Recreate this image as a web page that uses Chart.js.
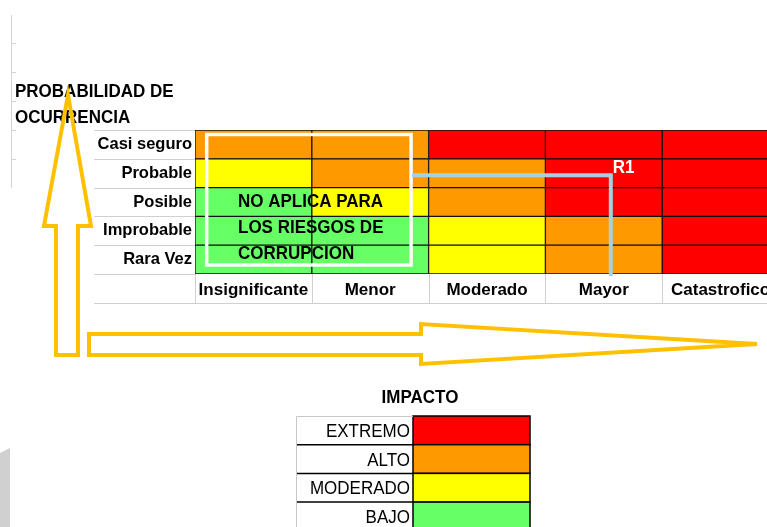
<!DOCTYPE html>
<html><head><meta charset="utf-8">
<script src="https://cdn.jsdelivr.net/npm/chart.js@4/dist/chart.umd.min.js"></script>
<style>
html,body{margin:0;padding:0;overflow:hidden;background:#fff;width:767px;height:527px}
#wrap{position:absolute;left:0;top:0;width:779px;height:527px}
</style></head>
<body><div id="wrap"><canvas id="c" width="779" height="527"></canvas></div>
<script>
// ---- data ----
const probabilidad = ['Casi seguro', 'Probable', 'Posible', 'Improbable', 'Rara Vez'];
const impacto = ['Insignificante', 'Menor', 'Moderado', 'Mayor', 'Catastrofico'];
// nivel de riesgo por celda: 1 BAJO, 2 MODERADO, 3 ALTO, 4 EXTREMO
const nivelCasiSeguro = [3, 3, 4, 4, 4];
const nivelProbable   = [2, 3, 3, 4, 4];
const nivelPosible    = [1, 2, 3, 4, 4];
const nivelImprobable = [1, 1, 2, 3, 4];
const nivelRaraVez    = [1, 1, 2, 3, 4];
const nivelNombres = ['EXTREMO', 'ALTO', 'MODERADO', 'BAJO'];
const nivelValores = [4, 3, 2, 1];
const nivelColores = ['#FF0000', '#FF9900', '#FFFF00', '#66FF66']; // EXTREMO..BAJO
const riesgoR1 = { nombre: 'R1', impacto: 'Mayor', probabilidad: 'Probable' };
const notaTexto = ['NO APLICA PARA', 'LOS RIESGOS DE', 'CORRUPCION'];
const tituloY = ['PROBABILIDAD DE', 'OCURRENCIA'];
const tituloLeyenda = 'IMPACTO';

const filas = [nivelCasiSeguro, nivelProbable, nivelPosible, nivelImprobable, nivelRaraVez];
const colorDe = v => nivelColores[nivelValores.indexOf(v)];
const FONT = '"Liberation Sans", Arial, sans-serif';
const YEL = '#FFC000';

const datasets = impacto.map((imp, j) => ({
  label: imp,
  data: probabilidad.map(() => 1),
  backgroundColor: filas.map(f => colorDe(f[j])),
  borderColor: '#111',
  borderWidth: 1,
  borderSkipped: false,
  barPercentage: 1,
  categoryPercentage: 1,
  stack: 'm'
}));

// text drawn slightly taller, like the spreadsheet rendering
function tallText(ctx, t, x, y, sy) {
  ctx.save(); ctx.translate(x, y); ctx.scale(1, sy || 1.1); ctx.fillText(t, 0, 0); ctx.restore();
}

const deco = {
  id: 'deco',
  beforeDraw(chart) {
    const ctx = chart.ctx;
    const xs = chart.scales.x;
    const ca = chart.chartArea;
    ctx.save();
    ctx.strokeStyle = '#d4d4d4'; ctx.lineWidth = 1;
    ctx.beginPath(); ctx.moveTo(11.5, 15); ctx.lineTo(11.5, 188); ctx.stroke();
    [43, 72, 101, 130, 159].forEach(y => { ctx.beginPath(); ctx.moveTo(11, y + 0.5); ctx.lineTo(16, y + 0.5); ctx.stroke(); });
    ctx.strokeStyle = '#d0d0d0';
    for (let i = 0; i <= probabilidad.length; i++) {
      const y = Math.round(ca.top + i * (ca.bottom - ca.top) / probabilidad.length) + 0.5;
      ctx.beginPath(); ctx.moveTo(94, y); ctx.lineTo(ca.left, y); ctx.stroke();
    }
    const yb = xs.bottom;
    ctx.beginPath(); ctx.moveTo(94, yb + 0.5); ctx.lineTo(779, yb + 0.5); ctx.stroke();
    for (let j = 0; j < impacto.length; j++) {
      const x = Math.round(xs.getPixelForValue(j)) + 0.5;
      ctx.beginPath(); ctx.moveTo(x, ca.bottom); ctx.lineTo(x, yb); ctx.stroke();
    }
    ctx.restore();
  },
  afterDraw(chart) {
    const ctx = chart.ctx;
    const xs = chart.scales.x, ys = chart.scales.y;
    const ca = chart.chartArea;
    ctx.save();
    // white frame
    const rL = xs.getPixelForValue(0.1), rR = xs.getPixelForValue(1.85);
    const rT = ca.top + 4.5, rB = ca.bottom - 9;
    ctx.strokeStyle = '#fff'; ctx.lineWidth = 3.5;
    ctx.strokeRect(rL, rT, rR - rL, rB - rT);
    // note text
    ctx.fillStyle = '#000'; ctx.font = 'bold 17px ' + FONT; ctx.textAlign = 'left'; ctx.textBaseline = 'alphabetic';
    notaTexto.forEach((t, i) => tallText(ctx, t, 238, 207 + i * 26));
    // R1 connector
    const px = xs.getPixelForValue(impacto.indexOf(riesgoR1.impacto) + 0.56);
    const py = ys.getPixelForValue(probabilidad.indexOf(riesgoR1.probabilidad)) + 2;
    ctx.strokeStyle = '#A3D3E3'; ctx.lineWidth = 4; ctx.lineJoin = 'miter';
    ctx.beginPath(); ctx.moveTo(rR + 1, py); ctx.lineTo(px, py); ctx.lineTo(px, ca.bottom + 2); ctx.stroke();
    ctx.fillStyle = '#fff'; ctx.font = 'bold 17px ' + FONT;
    tallText(ctx, riesgoR1.nombre, px + 2, 173);
    // title
    ctx.fillStyle = '#000'; ctx.font = 'bold 17px ' + FONT;
    tallText(ctx, tituloY[0], 15, 97);
    tallText(ctx, tituloY[1], 15, 123);
    // arrows
    ctx.strokeStyle = YEL; ctx.lineWidth = 4; ctx.lineJoin = 'miter';
    ctx.beginPath();
    ctx.moveTo(56, 355); ctx.lineTo(56, 226); ctx.lineTo(44, 226); ctx.lineTo(68, 95);
    ctx.lineTo(91, 226); ctx.lineTo(78, 226); ctx.lineTo(78, 355); ctx.closePath(); ctx.stroke();
    ctx.beginPath();
    ctx.moveTo(89, 334); ctx.lineTo(421, 334); ctx.lineTo(421, 324); ctx.lineTo(757, 344);
    ctx.lineTo(421, 364); ctx.lineTo(421, 355); ctx.lineTo(89, 355); ctx.closePath(); ctx.stroke();
    // legend
    ctx.fillStyle = '#000'; ctx.font = 'bold 17px ' + FONT; ctx.textAlign = 'center';
    tallText(ctx, tituloLeyenda, 420, 403);
    const top0 = 416, rh = 28.7, lx0 = 296, lx1 = 413, lx2 = 530;
    nivelNombres.forEach((n, i) => {
      const y = top0 + i * rh;
      ctx.fillStyle = nivelColores[i];
      ctx.fillRect(lx1, y, lx2 - lx1, rh);
      ctx.strokeStyle = '#000'; ctx.lineWidth = 1.5;
      ctx.strokeRect(lx1, y, lx2 - lx1, rh);
      if (i > 0) { ctx.beginPath(); ctx.moveTo(lx0, y); ctx.lineTo(lx1, y); ctx.stroke(); }
      ctx.fillStyle = '#000'; ctx.font = '17px ' + FONT; ctx.textAlign = 'right';
      tallText(ctx, n, 410, y + 21);
    });
    ctx.strokeStyle = '#c8c8c8'; ctx.lineWidth = 1;
    ctx.beginPath(); ctx.moveTo(lx0 + 0.5, 527); ctx.lineTo(lx0 + 0.5, top0 + 0.5); ctx.lineTo(lx1, top0 + 0.5); ctx.stroke();
    // gray corner artifact
    ctx.fillStyle = '#d0d0d0';
    ctx.beginPath(); ctx.moveTo(0, 453); ctx.lineTo(10, 448); ctx.lineTo(10, 527); ctx.lineTo(0, 527); ctx.closePath(); ctx.fill();
    ctx.restore();
  }
};

new Chart(document.getElementById('c'), {
  type: 'bar',
  data: { labels: probabilidad, datasets },
  options: {
    indexAxis: 'y',
    responsive: false,
    devicePixelRatio: 1,
    animation: false,
    layout: { padding: { top: 130, bottom: 224, left: 0, right: 0 } },
    plugins: { legend: { display: false }, tooltip: { enabled: false } },
    scales: {
      x: {
        type: 'linear', stacked: true, min: 0, max: impacto.length,
        grid: { display: false, drawTicks: false }, border: { display: false },
        afterBuildTicks: s => { s.ticks = impacto.map((_, i) => ({ value: i + 0.5 })); },
        afterFit: s => { s.height = 29; },
        ticks: { autoSkip: false, maxRotation: 0, padding: 6, color: '#000',
          font: { family: FONT, size: 17, weight: 'bold' },
          callback: (v, i) => impacto[i] }
      },
      y: {
        type: 'category', stacked: true, offset: true,
        grid: { display: false, drawTicks: false }, border: { display: false },
        afterFit: s => { s.width = 195; },
        ticks: { padding: 3, color: '#000', font: { family: FONT, size: 16.5, weight: 'bold' } }
      }
    }
  },
  plugins: [deco]
});
</script>
</body></html>
